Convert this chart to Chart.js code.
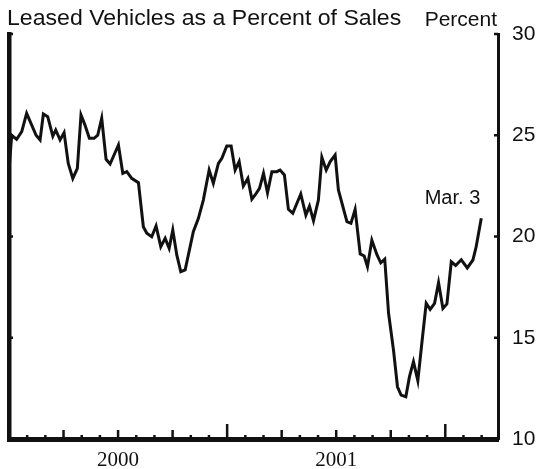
<!DOCTYPE html>
<html>
<head>
<meta charset="utf-8">
<script src="https://cdn.jsdelivr.net/npm/chart.js@4.4.1/dist/chart.umd.min.js"></script>
<style>
  html, body { margin: 0; padding: 0; background: #fff; }
</style>
</head>
<body>
<canvas id="leaseChart" width="537" height="469"></canvas>
<script>
// weekly readings, x = months since Jan 1 2000
const monthPos = [
  0.00, 0.15, 0.42, 0.70, 0.97, 1.25, 1.49, 1.71, 1.89, 2.13,
  2.41, 2.57, 2.81, 3.03, 3.26, 3.51, 3.76, 3.96, 4.18, 4.42,
  4.68, 4.88, 5.10, 5.34, 5.56, 6.02, 6.26, 6.48, 6.75, 7.12,
  7.39, 7.58, 7.85, 8.09, 8.35, 8.59, 8.81, 9.01, 9.23, 9.45,
  9.69, 10.14, 10.42, 10.69, 11.01, 11.24, 11.52, 11.71, 11.98, 12.22,
  12.44, 12.66, 12.89, 13.14, 13.36, 13.54, 13.78, 14.00, 14.22, 14.46,
  14.73, 14.91, 15.15, 15.37, 15.61, 16.05, 16.33, 16.53, 16.75, 17.02,
  17.21, 17.45, 17.67, 17.94, 18.12, 18.59, 18.81, 19.04, 19.32, 19.54,
  19.72, 19.96, 20.24, 20.45, 20.67, 20.88, 21.15, 21.37, 21.57, 21.83,
  22.03, 22.25, 22.49, 22.71, 22.95, 23.17, 23.41, 23.63, 23.87, 24.09,
  24.33, 24.57, 24.88, 25.21, 25.52, 25.70, 25.98
];
// leased vehicles, percent of sales
const leasePct = [
  23.28, 25.00, 24.80, 25.18, 26.08, 25.50, 25.00, 24.77, 26.05, 25.92,
  24.96, 25.26, 24.77, 25.13, 23.61, 22.87, 23.37, 26.00, 25.50, 24.85,
  24.85, 25.00, 25.84, 23.81, 23.58, 24.52, 23.12, 23.20, 22.87, 22.66,
  20.48, 20.16, 19.99, 20.52, 19.50, 19.91, 19.42, 20.32, 19.09, 18.26,
  18.35, 20.24, 20.90, 21.80, 23.28, 22.63, 23.61, 23.86, 24.47, 24.47,
  23.28, 23.70, 22.49, 22.87, 21.84, 22.05, 22.38, 23.12, 22.16, 23.20,
  23.20, 23.28, 23.04, 21.34, 21.15, 22.10, 21.06, 21.50, 20.78, 21.80,
  23.91, 23.28, 23.70, 24.02, 22.30, 20.73, 20.65, 21.34, 19.14, 19.04,
  18.51, 19.81, 19.10, 18.70, 18.88, 16.21, 14.40, 12.58, 12.17, 12.09,
  13.08, 13.82, 12.88, 14.73, 16.70, 16.40, 16.70, 17.72, 16.45, 16.67,
  18.75, 18.57, 18.85, 18.45, 18.84, 19.50, 20.90
];
const yearLabels = ['2000', '2001'];
const yearMid = [6, 18];
const yTicks = [10, 15, 20, 25, 30];
const xMax = 26.9;
const titleText = 'Leased Vehicles as a Percent of Sales';
const unitText = 'Percent';
const lastLabel = 'Mar. 3';

const ink = '#111';
const sans = '"Liberation Sans", Arial, sans-serif';

// tick marks point inward, so they are drawn here rather than by the grid
const frameMarks = {
  id: 'frameMarks',
  afterDraw(chart) {
    const ctx = chart.ctx;
    const area = chart.chartArea;
    const x = chart.scales.x;
    const y = chart.scales.y;
    ctx.save();
    ctx.strokeStyle = ink;
    ctx.lineWidth = 2.5;
    for (let m = 0; m <= Math.floor(xMax); m++) {
      let len = 4;
      if (m % 12 === 0) len = 15;
      else if (m % 3 === 0) len = 9;
      const px = x.getPixelForValue(m);
      ctx.beginPath();
      ctx.moveTo(px, area.bottom);
      ctx.lineTo(px, area.bottom - len);
      ctx.stroke();
    }
    yTicks.forEach(v => {
      const py = y.getPixelForValue(v);
      ctx.beginPath();
      ctx.moveTo(area.left, py);
      ctx.lineTo(area.left + 4, py);
      ctx.moveTo(area.right, py);
      ctx.lineTo(area.right - 4, py);
      ctx.stroke();
    });

    ctx.fillStyle = ink;
    ctx.textBaseline = 'alphabetic';
    // the original lettering is a little wide, so stretch the title
    ctx.save();
    ctx.translate(7, 25);
    ctx.scale(1.05, 1);
    ctx.font = '22px ' + sans;
    ctx.textAlign = 'left';
    ctx.fillText(titleText, 0, 0);
    ctx.restore();

    ctx.font = '21px ' + sans;
    ctx.textAlign = 'right';
    ctx.fillText(unitText, area.right - 1, 26);

    const n = monthPos.length - 1;
    const lx = x.getPixelForValue(monthPos[n]);
    const ly = y.getPixelForValue(leasePct[n]);
    ctx.font = '20px ' + sans;
    ctx.fillText(lastLabel, lx - 1, ly - 14);
    ctx.restore();
  }
};

const points = monthPos.map((m, i) => ({ x: m, y: leasePct[i] }));

new Chart(document.getElementById('leaseChart'), {
  type: 'line',
  data: {
    datasets: [{
      data: points,
      borderColor: ink,
      borderWidth: 3,
      pointRadius: 0,
      tension: 0,
      fill: false
    }]
  },
  options: {
    responsive: false,
    animation: false,
    layout: { padding: { top: 34, left: 9, right: 0, bottom: 0 } },
    plugins: {
      legend: { display: false },
      tooltip: { enabled: false }
    },
    scales: {
      x: {
        type: 'linear',
        min: 0,
        max: xMax,
        grid: { display: false },
        border: { display: true, color: ink, width: 5 },
        afterBuildTicks: s => { s.ticks = yearMid.map(v => ({ value: v })); },
        afterFit: s => { s.height = 30; },
        ticks: {
          autoSkip: false,
          maxRotation: 0,
          padding: 1,
          color: ink,
          font: { family: '"Liberation Serif", "Times New Roman", serif', size: 21 },
          callback: (v, i) => yearLabels[i]
        }
      },
      y: {
        position: 'right',
        min: 10,
        max: 30,
        grid: { display: false },
        border: { display: true, color: ink, width: 3 },
        afterBuildTicks: s => { s.ticks = yTicks.map(v => ({ value: v })); },
        afterFit: s => { s.width = 39; },
        ticks: {
          padding: 6,
          color: ink,
          font: { family: sans, size: 21 }
        }
      },
      yLeft: {
        position: 'left',
        min: 10,
        max: 30,
        grid: { display: false },
        border: { display: true, color: ink, width: 4.5 },
        ticks: { display: false },
        afterFit: s => { s.width = 0; }
      }
    }
  },
  plugins: [frameMarks]
});
</script>
</body>
</html>
